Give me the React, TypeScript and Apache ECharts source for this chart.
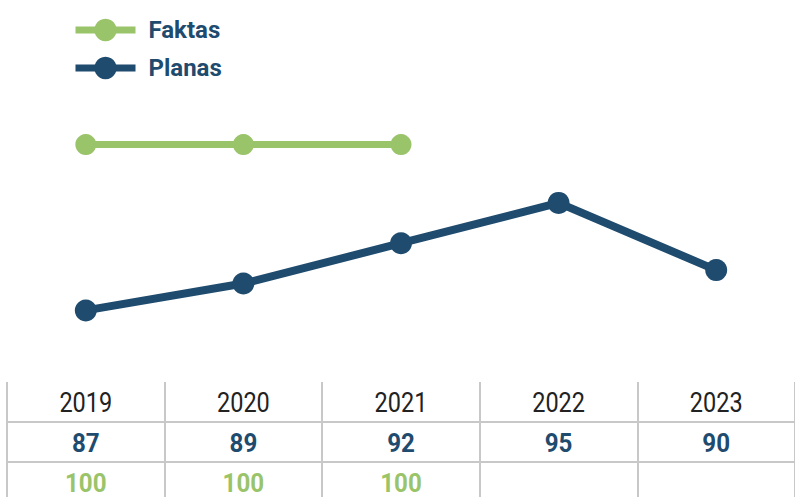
import React, { useEffect, useRef } from "react";
import * as echarts from "echarts";

const years = ["2019", "2020", "2021", "2022", "2023"];
const planas = [87, 89, 92, 95, 90];
const faktas: (number | null)[] = [100, 100, 100, null, null];

const BLUE = "#1F4B6E";
const GREEN = "#9AC46A";
const RULE = "#C8C8C8";

export default function App() {
  const ref = useRef<HTMLDivElement>(null);
  useEffect(() => {
    document.body.style.margin = "0";
    const chart = echarts.init(ref.current!, null, { renderer: "svg" });
    const option: any = {
      animation: false,
      legend: {
        orient: "vertical",
        left: 72,
        top: 18,
        padding: 0,
        itemWidth: 60,
        itemHeight: 28,
        itemGap: 14,
        data: ["Faktas", "Planas"],
        lineStyle: { width: 7 },
        textStyle: {
          fontFamily: "Roboto",
          fontWeight: "bold",
          fontSize: 24,
          color: BLUE,
          padding: [0, 0, 0, 8],
        },
      },
      grid: { left: 7, right: -5, top: 68.5, bottom: 92.5 },
      xAxis: [
        {
          type: "category",
          data: years,
          axisLine: { show: false },
          axisTick: { show: false },
          axisLabel: { show: false },
          splitLine: { show: false },
        },
        {
          type: "category",
          data: years,
          position: "bottom",
          offset: -22.5,
          axisLine: { show: false },
          axisTick: { show: true, interval: 0, length: 130, lineStyle: { color: RULE, width: 2 } },
          axisLabel: { show: false },
          splitLine: { show: false },
        },
      ],
      yAxis: [
        { type: "value", min: 80, max: 105, show: false },
        { type: "value", min: 80, max: 105.85, show: false },
      ],
      series: [
        {
          name: "Faktas",
          type: "line",
          data: faktas,
          yAxisIndex: 1,
          symbol: "circle",
          symbolSize: 21,
          itemStyle: { color: GREEN },
          lineStyle: { color: GREEN, width: 7 },
        },
        {
          name: "Planas",
          type: "line",
          data: planas,
          symbol: "circle",
          symbolSize: 22,
          itemStyle: { color: BLUE },
          lineStyle: { color: BLUE, width: 8 },
        },
      ],
    };
    chart.setOption(option);

    const rows = [
      { values: years, y: 403, font: "400 27px Roboto", fill: "#222222", sx: 0.87 },
      { values: planas.map(String), y: 443, font: "bold 26px Roboto", fill: BLUE, sx: 0.93 },
      { values: faktas.map((v) => (v == null ? "" : String(v))), y: 483, font: "bold 26px Roboto", fill: GREEN, sx: 0.93 },
    ];
    const graphics: any[] = [
      { type: "line", shape: { x1: 7, y1: 422, x2: 795, y2: 422 }, style: { stroke: RULE, lineWidth: 2 } },
      { type: "line", shape: { x1: 7, y1: 462, x2: 795, y2: 462 }, style: { stroke: RULE, lineWidth: 2 } },
    ];
    rows.forEach((row) => {
      row.values.forEach((txt, i) => {
        if (!txt) return;
        const px = chart.convertToPixel({ xAxisIndex: 0 }, i) as number;
        graphics.push({
          type: "text",
          x: px,
          y: row.y,
          scaleX: row.sx,
          style: {
            text: txt,
            font: row.font,
            fill: row.fill,
            align: "center",
            verticalAlign: "middle",
          },
        });
      });
    });
    chart.setOption({ graphic: graphics });

    return () => chart.dispose();
  }, []);
  return <div ref={ref} style={{ width: 795, height: 497 }} />;
}
